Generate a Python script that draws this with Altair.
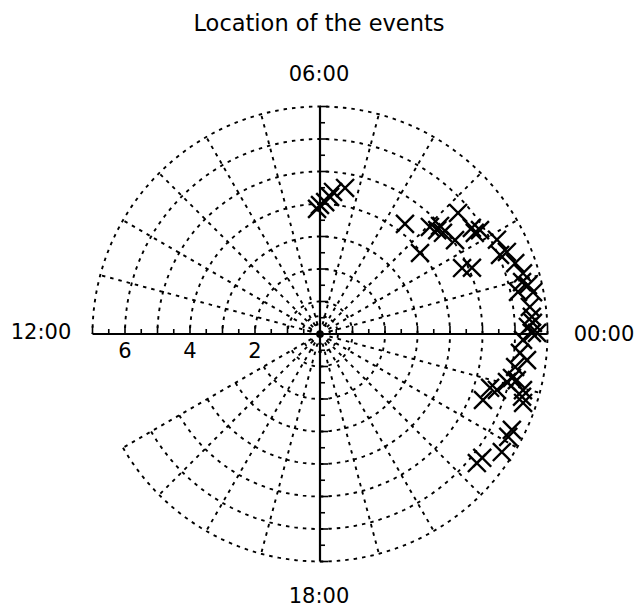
import numpy as np
import pandas as pd
import altair as alt

# Event positions: magnetic local time (hours) and radial distance
event_mlt = [6.09, 5.85, 5.65, 5.35, 5.72, 6.00,
             3.49, 2.60, 2.77, 2.63, 2.80, 2.75, 2.32, 1.66, 1.57, 2.21, 2.20,
             2.33, 1.87, 1.58, 1.58, 1.33, 1.11, 0.96, 0.88, 0.49, 0.31, 0.13,
             0.02, 2.95, 0.80, 0.74,
             0.20, 23.89, 23.64, 23.52, 23.36, 23.14, 23.04, 22.83, 22.53,
             22.85, 22.75, 22.23, 22.09, 21.80, 21.51, 21.37, 0.02, 23.12,
             22.97, 22.83]
event_r = [3.85, 4.06, 4.39, 4.56, 4.23, 3.97,
           4.28, 3.96, 4.82, 4.90, 4.97, 5.65, 5.06, 4.82, 5.10, 5.69, 5.87,
           5.70, 6.17, 6.05, 6.28, 6.39, 6.52, 6.42, 6.57, 6.51, 6.54, 6.40,
           6.52, 4.72, 6.23, 6.68,
           6.56, 6.25, 6.18, 6.42, 6.09, 6.06, 5.94, 5.49, 5.41,
           6.51, 6.60, 6.60, 6.60, 6.67, 6.28, 6.25, 6.68, 6.22,
           6.48, 5.71]

# Grid definition
ring_radii = [0.3, 0.55, 1, 2, 3, 4, 5, 6, 7]
r_max = 7
spoke_hours = list(range(14, 36))        # 14:00 round to 11:00 (next day)
arc_start_deg, arc_end_deg = 210, 540    # 12:00-14:00 sector left open
tick_values = [k * 0.5 for k in range(-14, 15) if k != 0]
axis_labels = [6, 4, 2]

W, H = 636, 607
CX, CY = 320, 334
PX = 32.5  # pixels per radial unit
xs = alt.Scale(domain=[-CX / PX, (W - CX) / PX], nice=False, zero=False)
ys = alt.Scale(domain=[-(H - CY) / PX, CY / PX], nice=False, zero=False)

def X(f="x"):
    return alt.X(f"{f}:Q", scale=xs, axis=None)

def Y(f="y"):
    return alt.Y(f"{f}:Q", scale=ys, axis=None)

# Dotted rings
rows = []
ang = np.deg2rad(np.arange(arc_start_deg, arc_end_deg + 0.1, 1.5))
for i, rr in enumerate(ring_radii):
    for j, a in enumerate(ang):
        rows.append({"ring": i, "o": j, "x": rr * np.cos(a), "y": rr * np.sin(a)})
rings = pd.DataFrame(rows)

# Dotted spokes
rows = []
for h in spoke_hours:
    a = np.deg2rad(h * 15)
    for o, rr in enumerate([0.3, r_max]):
        rows.append({"spoke": h, "o": o, "x": rr * np.cos(a), "y": rr * np.sin(a)})
spokes = pd.DataFrame(rows)

dash = [3.5, 5]
ring_layer = alt.Chart(rings).mark_line(
    color="black", strokeWidth=1.9, strokeDash=dash
).encode(x=X(), y=Y(), detail="ring:N", order="o:Q")
spoke_layer = alt.Chart(spokes).mark_line(
    color="black", strokeWidth=1.9, strokeDash=dash
).encode(x=X(), y=Y(), detail="spoke:N", order="o:Q")

# Solid axes through the pole
axes_df = pd.DataFrame({"x": [-r_max, 0], "x2": [r_max, 0],
                        "y": [0, -r_max], "y2": [0, r_max]})
axes_layer = alt.Chart(axes_df).mark_rule(color="black", strokeWidth=2.2).encode(
    x=X(), x2="x2:Q", y=Y(), y2="y2:Q")

# Tick marks: upward on the horizontal axis, rightward on the vertical one
tk = pd.DataFrame({"v": tick_values})
tk["len"] = np.where(np.mod(tk["v"], 1) == 0, 8, 5) / PX
tk["zero"] = 0.0
htick = alt.Chart(tk).mark_rule(color="black", strokeWidth=1.6).encode(
    x=X("v"), y=Y("zero"), y2="len:Q")
vtick = alt.Chart(tk).mark_rule(color="black", strokeWidth=1.6).encode(
    y=Y("v"), x=X("zero"), x2="len:Q")

# Pole dot
pole = alt.Chart(pd.DataFrame({"x": [0], "y": [0]})).mark_point(
    filled=True, color="black", size=60, opacity=1).encode(x=X(), y=Y())

# Events as X symbols
ev = pd.DataFrame({"mlt": event_mlt, "r": event_r})
events = alt.Chart(ev).transform_calculate(
    x="datum.r * cos(datum.mlt * PI / 12)",
    y="datum.r * sin(datum.mlt * PI / 12)",
).mark_point(
    shape="M -1 -1 L 1 1 M -1 1 L 1 -1", size=320, filled=False,
    color="black", strokeWidth=2.4, opacity=1
).encode(x=X(), y=Y())

FONT = "DejaVu Sans"

# Radial labels on the left half of the horizontal axis
lab = pd.DataFrame({"v": [-a for a in axis_labels], "t": [str(a) for a in axis_labels]})
lab_layer = alt.Chart(lab).mark_text(
    font=FONT, fontSize=21, baseline="middle", align="center", color="black"
).encode(x=X("v"), y=alt.value(352), text="t:N")

def label(txt, px, py, size=21):
    return alt.Chart(pd.DataFrame({"t": [txt]})).mark_text(
        font=FONT, fontSize=size, baseline="middle", align="center", color="black"
    ).encode(x=alt.value(px), y=alt.value(py), text="t:N")

texts = [
    label("Location of the events", 319, 24, 22.5),
    label("06:00", 319, 75),
    label("18:00", 319, 597),
    label("12:00", 41, 333),
    label("00:00", 604, 335),
]

chart = alt.layer(
    ring_layer, spoke_layer, axes_layer, htick, vtick, pole, events, lab_layer, *texts
).properties(
    width=W, height=H, padding=0,
    autosize=alt.AutoSizeParams(type="none"),
    background="white",
).configure_view(stroke=None)

chart.save("out.html", embed_options={"renderer": "svg", "actions": False})
